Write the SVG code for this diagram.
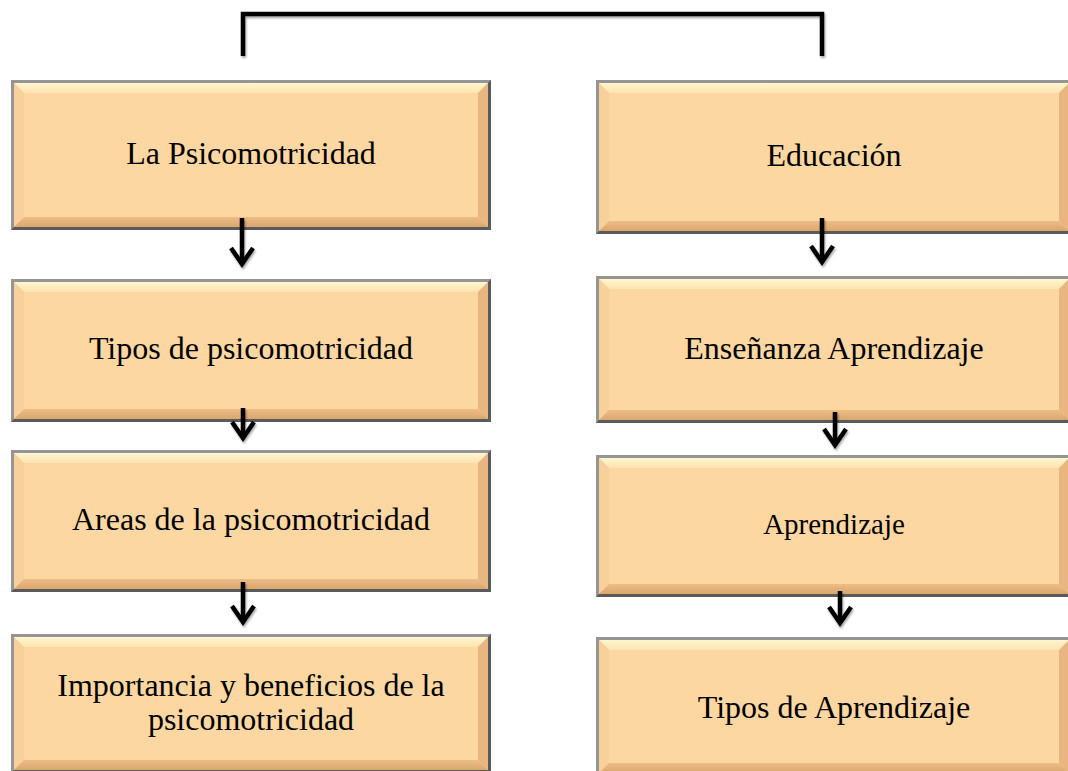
<svg xmlns="http://www.w3.org/2000/svg" width="1068" height="771" viewBox="0 0 1068 771">
<style>
.frame{fill:#959595}
.dark{fill:#5a5a5a}
.face{fill:#fdd7a1}
.bt{fill:url(#gTop)}
.bl{fill:#f8d09b}
.br{fill:#e8b67e}
.bb{fill:url(#gBot)}
.lbl{font-family:"Liberation Serif","Times New Roman",serif;font-size:32px;fill:#000;text-anchor:middle}
.sm{font-size:29px}
.con{fill:none;stroke:#000;stroke-width:4.5;stroke-linejoin:miter}
.arr{marker-end:url(#chev)}
</style>
<defs>
<linearGradient id="gTop" x1="0" y1="0" x2="0" y2="1">
<stop offset="0" stop-color="#fff6cf"/>
<stop offset="1" stop-color="#fde3b0"/>
</linearGradient>
<linearGradient id="gBot" x1="0" y1="0" x2="0" y2="1">
<stop offset="0" stop-color="#eebd86"/>
<stop offset="1" stop-color="#d9a66e"/>
</linearGradient>
<filter id="sh" filterUnits="userSpaceOnUse" x="0" y="0" width="1068" height="771">
<feDropShadow dx="1" dy="2" stdDeviation="1.3" flood-color="#000" flood-opacity="0.35"/>
</filter>
<marker id="chev" markerUnits="userSpaceOnUse" viewBox="-22 -16 28 32" markerWidth="28" markerHeight="32" refX="0" refY="0" orient="auto" overflow="visible">
<path d="M-16,-11 L0,0 L-16,11" fill="none" stroke="#000" stroke-width="4.5" stroke-linejoin="miter"/>
</marker>
</defs>
<rect width="1068" height="771" fill="#fff"/>

<g id="node-la-psicomotricidad">
<rect class="frame" x="11" y="80" width="480" height="150"/>
<polygon class="dark" points="491,80 491,230 11,230 14,227 488,227 488,83"/>
<rect class="face" x="14" y="83" width="474" height="144"/>
<polygon class="bt" points="14,83 488,83 478,93 24,93"/>
<polygon class="bl" points="14,83 24,93 24,217 14,227"/>
<polygon class="br" points="488,83 488,227 478,217 478,93"/>
<polygon class="bb" points="14,227 24,217 478,217 488,227"/>
<text class="lbl" x="251" y="164">La Psicomotricidad</text>
</g>

<g id="node-tipos-psicomotricidad">
<rect class="frame" x="11" y="279" width="480" height="143"/>
<polygon class="dark" points="491,279 491,422 11,422 14,419 488,419 488,282"/>
<rect class="face" x="14" y="282" width="474" height="137"/>
<polygon class="bt" points="14,282 488,282 478,292 24,292"/>
<polygon class="bl" points="14,282 24,292 24,409 14,419"/>
<polygon class="br" points="488,282 488,419 478,409 478,292"/>
<polygon class="bb" points="14,419 24,409 478,409 488,419"/>
<text class="lbl" x="251" y="359">Tipos de psicomotricidad</text>
</g>

<g id="node-areas">
<rect class="frame" x="11" y="450" width="480" height="142"/>
<polygon class="dark" points="491,450 491,592 11,592 14,589 488,589 488,453"/>
<rect class="face" x="14" y="453" width="474" height="136"/>
<polygon class="bt" points="14,453 488,453 478,463 24,463"/>
<polygon class="bl" points="14,453 24,463 24,579 14,589"/>
<polygon class="br" points="488,453 488,589 478,579 478,463"/>
<polygon class="bb" points="14,589 24,579 478,579 488,589"/>
<text class="lbl" x="251" y="530">Areas de la psicomotricidad</text>
</g>

<g id="node-importancia">
<rect class="frame" x="11" y="634" width="480" height="139"/>
<polygon class="dark" points="491,634 491,773 11,773 14,770 488,770 488,637"/>
<rect class="face" x="14" y="637" width="474" height="133"/>
<polygon class="bt" points="14,637 488,637 478,647 24,647"/>
<polygon class="bl" points="14,637 24,647 24,760 14,770"/>
<polygon class="br" points="488,637 488,770 478,760 478,647"/>
<polygon class="bb" points="14,770 24,760 478,760 488,770"/>
<text class="lbl" x="251" y="696">Importancia y beneficios de la</text>
<text class="lbl" x="251" y="730">psicomotricidad</text>
</g>

<g id="node-educacion">
<rect class="frame" x="596" y="80" width="476" height="154"/>
<polygon class="dark" points="1072,80 1072,234 596,234 599,231 1069,231 1069,83"/>
<rect class="face" x="599" y="83" width="470" height="148"/>
<polygon class="bt" points="599,83 1069,83 1059,93 609,93"/>
<polygon class="bl" points="599,83 609,93 609,221 599,231"/>
<polygon class="br" points="1069,83 1069,231 1059,221 1059,93"/>
<polygon class="bb" points="599,231 609,221 1059,221 1069,231"/>
<text class="lbl" x="834" y="166">Educación</text>
</g>

<g id="node-ensenanza">
<rect class="frame" x="596" y="276" width="476" height="147"/>
<polygon class="dark" points="1072,276 1072,423 596,423 599,420 1069,420 1069,279"/>
<rect class="face" x="599" y="279" width="470" height="141"/>
<polygon class="bt" points="599,279 1069,279 1059,289 609,289"/>
<polygon class="bl" points="599,279 609,289 609,410 599,420"/>
<polygon class="br" points="1069,279 1069,420 1059,410 1059,289"/>
<polygon class="bb" points="599,420 609,410 1059,410 1069,420"/>
<text class="lbl" x="834" y="359">Enseñanza Aprendizaje</text>
</g>

<g id="node-aprendizaje">
<rect class="frame" x="596" y="455" width="476" height="142"/>
<polygon class="dark" points="1072,455 1072,597 596,597 599,594 1069,594 1069,458"/>
<rect class="face" x="599" y="458" width="470" height="136"/>
<polygon class="bt" points="599,458 1069,458 1059,468 609,468"/>
<polygon class="bl" points="599,458 609,468 609,584 599,594"/>
<polygon class="br" points="1069,458 1069,594 1059,584 1059,468"/>
<polygon class="bb" points="599,594 609,584 1059,584 1069,594"/>
<text class="lbl sm" x="834" y="534">Aprendizaje</text>
</g>

<g id="node-tipos-aprendizaje">
<rect class="frame" x="596" y="637" width="476" height="139"/>
<polygon class="dark" points="1072,637 1072,776 596,776 599,773 1069,773 1069,640"/>
<rect class="face" x="599" y="640" width="470" height="133"/>
<polygon class="bt" points="599,640 1069,640 1059,650 609,650"/>
<polygon class="bl" points="599,640 609,650 609,763 599,773"/>
<polygon class="br" points="1069,640 1069,773 1059,763 1059,650"/>
<polygon class="bb" points="599,773 609,763 1059,763 1069,773"/>
<text class="lbl" x="834" y="718">Tipos de Aprendizaje</text>
</g>

<g id="connectors" filter="url(#sh)">
<path class="con" d="M243,56 V14 H822 V56"/>
<path class="con arr" d="M242,218 V264"/>
<path class="con arr" d="M243,408 V438"/>
<path class="con arr" d="M243,582 V622"/>
<path class="con arr" d="M822,218 V262"/>
<path class="con arr" d="M835,412 V445"/>
<path class="con arr" d="M840,591 V623"/>
</g>
</svg>
